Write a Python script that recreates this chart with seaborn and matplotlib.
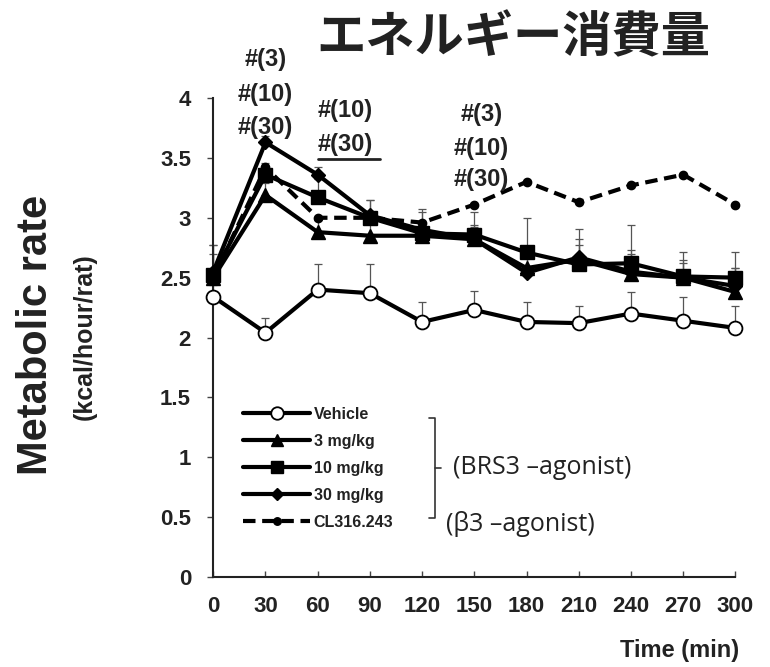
import numpy as np
import pandas as pd
import seaborn as sns
import matplotlib.pyplot as plt
from matplotlib.lines import Line2D

# Data
time_min = [0, 30, 60, 90, 120, 150, 180, 210, 240, 270, 300]
vehicle = [2.34, 2.04, 2.40, 2.37, 2.13, 2.23, 2.13, 2.12, 2.20, 2.14, 2.08]
dose_3 = [2.50, 3.19, 2.88, 2.85, 2.85, 2.82, 2.58, 2.65, 2.53, 2.50, 2.38]
dose_10 = [2.52, 3.36, 3.17, 3.00, 2.87, 2.86, 2.71, 2.61, 2.62, 2.51, 2.50]
dose_30 = [2.55, 3.63, 3.36, 3.02, 2.90, 2.82, 2.54, 2.67, 2.55, 2.50, 2.43]
cl316 = [2.50, 3.42, 3.00, 3.00, 2.96, 3.11, 3.30, 3.13, 3.27, 3.36, 3.11]

# upper SEM only
vehicle_err = [0.10, 0.12, 0.21, 0.24, 0.17, 0.16, 0.17, 0.14, 0.18, 0.20, 0.18]
dose_3_err = [0.20, 0.10, 0.10, 0.12, 0.10, 0.10, 0.15, 0.12, 0.20, 0.15, 0.20]
dose_10_err = [0.25, 0.10, 0.15, 0.15, 0.20, 0.19, 0.29, 0.30, 0.32, 0.20, 0.21]
dose_30_err = [0.22, 0.05, 0.06, 0.13, 0.15, 0.12, 0.15, 0.15, 0.15, 0.12, 0.15]

series_names = ['Vehicle', '3 mg/kg', '10 mg/kg', '30 mg/kg', 'CL316.243']

sns.set_style("ticks")
plt.rcParams['font.family'] = ['Liberation Sans', 'DejaVu Sans']

fig = plt.figure(figsize=(7.7, 6.67), dpi=100)
ax = fig.add_axes([0.277, 0.135, 0.678, 0.718])

df = pd.DataFrame({'Time': time_min * 5,
                   'Rate': vehicle + dose_3 + dose_10 + dose_30 + cl316,
                   'Group': sum([[n] * len(time_min) for n in series_names], [])})

# error bars first (thin grey, upper only)
for vals, errs in [(vehicle, vehicle_err), (dose_3, dose_3_err),
                   (dose_10, dose_10_err), (dose_30, dose_30_err)]:
    ax.errorbar(time_min, vals, yerr=[np.zeros(len(errs)), errs], fmt='none',
                ecolor='#555555', elinewidth=0.9, capsize=3, capthick=0.9,
                clip_on=False, zorder=1)

styles = {
    'Vehicle': dict(marker='o', ms=10, mfc='white', mec='black', mew=1.3, ls='-'),
    '3 mg/kg': dict(marker='^', ms=10, mfc='black', mec='black', ls='-'),
    '10 mg/kg': dict(marker='s', ms=10, mfc='black', mec='black', ls='-'),
    '30 mg/kg': dict(marker='D', ms=7, mfc='black', mec='black', ls='-'),
    'CL316.243': dict(marker='o', ms=6, mfc='black', mec='black', ls=(0, (3, 1.6))),
}

handles = []
for name in series_names:
    st = styles[name]
    sub = df[df['Group'] == name]
    sns.lineplot(data=sub, x='Time', y='Rate', ax=ax, color='black', lw=3,
                 linestyle=st['ls'], marker=st['marker'], markersize=st['ms'],
                 markerfacecolor=st['mfc'], markeredgecolor=st['mec'],
                 markeredgewidth=st.get('mew', 1), clip_on=False, zorder=3)
    handles.append(Line2D([], [], color='black', lw=3, linestyle=st['ls'],
                          marker=st['marker'], markersize=st['ms'] * 0.9,
                          markerfacecolor=st['mfc'], markeredgecolor=st['mec'],
                          markeredgewidth=st.get('mew', 1)))

ax.set_xlim(0, 300)
ax.set_ylim(0, 4)
ax.set_xticks(time_min)
ax.set_yticks([0, 0.5, 1, 1.5, 2, 2.5, 3, 3.5, 4])
ax.set_yticklabels(['0', '0.5', '1', '1.5', '2', '2.5', '3', '3.5', '4'])
ax.tick_params(axis='both', labelsize=16, width=1, color='#444444')
ax.tick_params(axis='x', direction='in', length=4, pad=14)
ax.tick_params(axis='y', direction='out', length=4, pad=12)
for lab in ax.get_xticklabels() + ax.get_yticklabels():
    lab.set_fontweight('bold')
    lab.set_color('#222222')
sns.despine(ax=ax)
for sp in ['left', 'bottom']:
    ax.spines[sp].set_linewidth(1.5)
    ax.spines[sp].set_color('#222222')
ax.set_xlabel('')
ax.set_ylabel('')

# axis labels
fig.text(0.047, 0.498, 'Metabolic rate', rotation=90, ha='center', va='center',
         fontsize=30, fontweight='bold', color='#222222')
fig.text(0.11, 0.495, '(kcal/hour/rat)', rotation=90, ha='center', va='center',
         fontsize=18, fontweight='bold', color='#222222')
fig.text(0.883, 0.025, 'Time (min)', ha='center', va='center',
         fontsize=17, fontweight='bold', color='#222222')

# title
fig.text(0.667, 0.943, 'エネルギー消費量', ha='center', va='center', fontsize=35.5,
         fontweight='bold', family=['Noto Sans CJK JP', 'DejaVu Sans'], color='#222222')

# significance marks
ann = dict(ha='center', va='center', fontsize=17, fontweight='bold',
           color='#222222', annotation_clip=False)
for txt, y in [('#(3)', 4.32), ('#(10)', 4.03), ('#(30)', 3.75)]:
    ax.annotate(txt, (30, y), **ann)
for txt, y in [('#(10)', 3.90), ('#(30)', 3.61)]:
    ax.annotate(txt, (76, y), **ann)
ax.plot([60, 96], [3.49, 3.49], color='#222222', lw=2, clip_on=False)
for txt, y in [('#(3)', 3.86), ('#(10)', 3.58), ('#(30)', 3.32)]:
    ax.annotate(txt, (154, y), **ann)

# legend
leg = ax.legend(handles, series_names, loc='upper left', bbox_to_anchor=(0.03, 0.385),
                frameon=False, handlelength=4.2, labelspacing=0.75, handletextpad=0.2,
                prop=dict(size=11.5, weight='bold'))
for t in leg.get_texts():
    t.set_color('#222222')

# bracket
bx = 0.425
ax.plot([bx - 0.012, bx, bx, bx - 0.012], [0.332, 0.332, 0.123, 0.123],
        transform=ax.transAxes, color='#333333', lw=1.2, clip_on=False)
ax.plot([bx, bx + 0.012], [0.228, 0.228], transform=ax.transAxes,
        color='#333333', lw=1.2, clip_on=False)
ax.text(bx + 0.035, 0.228, '(BRS3 –agonist)', transform=ax.transAxes, ha='left',
        va='center', fontsize=18, family=['Open Sans', 'DejaVu Sans'], color='#222222')
ax.text(bx + 0.02, 0.11, '(β3 –agonist)', transform=ax.transAxes, ha='left',
        va='center', fontsize=18, family=['Open Sans', 'DejaVu Sans'], color='#222222')

fig.savefig('out.png', dpi=100)
